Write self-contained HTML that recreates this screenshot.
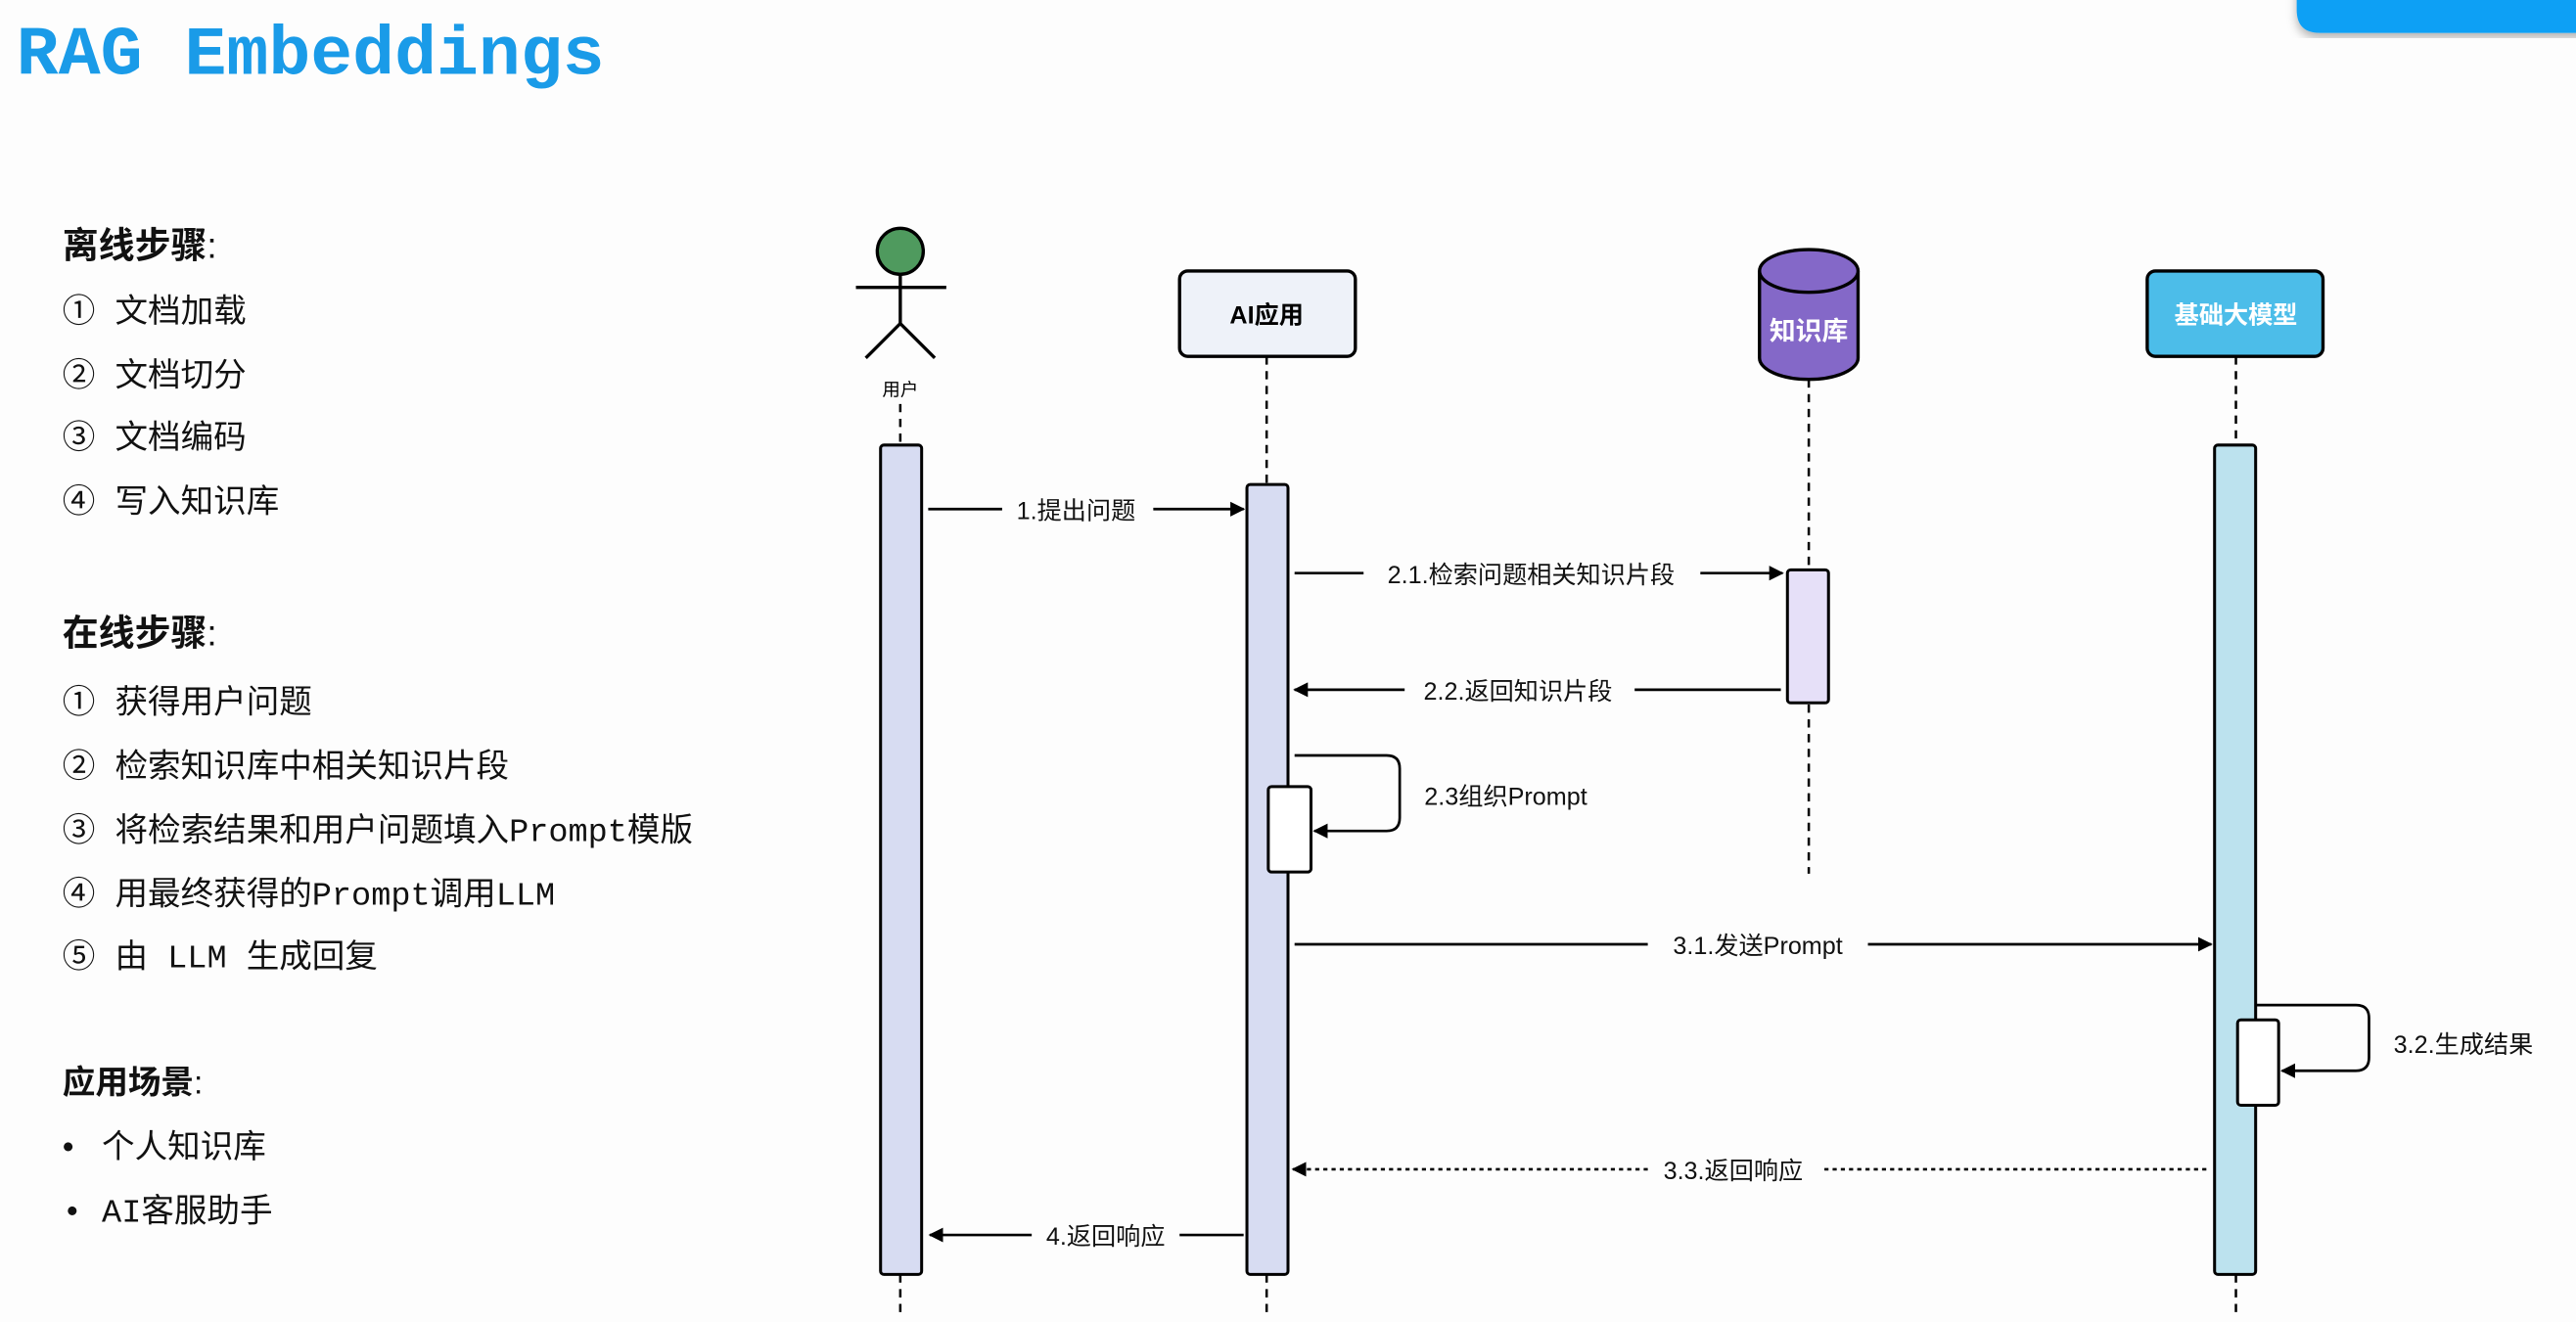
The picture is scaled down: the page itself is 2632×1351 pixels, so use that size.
<!DOCTYPE html>
<html><head><meta charset="utf-8"><style>
html,body{margin:0;padding:0;background:#fdfdfd;width:2632px;height:1351px;overflow:hidden}
svg{display:block}
.cn{font-family:"Liberation Sans","Noto Sans CJK SC",sans-serif}
.mono{font-family:"Liberation Mono","Noto Sans CJK SC",monospace}
</style></head><body>
<svg width="2632" height="1351" viewBox="0 0 1568 805" preserveAspectRatio="none" xmlns="http://www.w3.org/2000/svg">
<defs>
<marker id="ar" viewBox="0 0 10 10" refX="9" refY="5" markerWidth="9" markerHeight="9" markerUnits="userSpaceOnUse" orient="auto"><path d="M0,0 L10,5 L0,10 z" fill="#000"/></marker>
<filter id="sh"><feDropShadow dx="0" dy="3" stdDeviation="3" flood-opacity="0.3"/></filter>
</defs>
<rect x="0" y="0" width="1568" height="805" fill="#fdfdfd"/>
<path d="M1398,-10 H1580 V20 H1412 Q1398,20 1398,6 Z" fill="#10a0f5" filter="url(#sh)"/>
<text x="10" y="45" class="mono" font-size="42" font-weight="bold" fill="#1a9be8" textLength="358" lengthAdjust="spacingAndGlyphs">RAG Embeddings</text>

<g class="cn" fill="#111" font-size="20">
<text x="38" y="157" font-size="22" font-weight="bold">离线步骤<tspan font-weight="normal">:</tspan></text>
<text x="38" y="196">①<tspan x="70">文档加载</tspan></text>
<text x="38" y="235">②<tspan x="70">文档切分</tspan></text>
<text x="38" y="273">③<tspan x="70">文档编码</tspan></text>
<text x="38" y="312">④<tspan x="70">写入知识库</tspan></text>
<text x="38" y="393" font-size="22" font-weight="bold">在线步骤<tspan font-weight="normal">:</tspan></text>
<text x="38" y="434">①<tspan x="70">获得用户问题</tspan></text>
<text x="38" y="473">②<tspan x="70">检索知识库中相关知识片段</tspan></text>
<text x="38" y="512" class="mono">③<tspan x="70">将检索结果和用户问题填入Prompt模版</tspan></text>
<text x="38" y="551" class="mono">④<tspan x="70">用最终获得的Prompt调用LLM</tspan></text>
<text x="38" y="589" class="mono">⑤<tspan x="70">由 LLM 生成回复</tspan></text>
<text x="38" y="666" font-weight="bold">应用场景<tspan font-weight="normal">:</tspan></text>
<text x="38" y="705">•<tspan x="62">个人知识库</tspan></text>
<text x="38" y="744" class="mono">•<tspan x="62">AI客服助手</tspan></text>
</g>

<g stroke="#000" stroke-width="1.5" stroke-dasharray="5,4" fill="none">
<line x1="548" y1="246" x2="548" y2="271"/><line x1="548" y1="776" x2="548" y2="802"/>
<line x1="771" y1="217" x2="771" y2="295"/><line x1="771" y1="776" x2="771" y2="802"/>
<line x1="1101" y1="231" x2="1101" y2="532"/>
<line x1="1361" y1="217" x2="1361" y2="271"/><line x1="1361" y1="776" x2="1361" y2="802"/>
</g>

<circle cx="548" cy="153" r="14" fill="#4f9a5e" stroke="#000" stroke-width="2"/>
<g stroke="#000" stroke-width="2" fill="none">
<line x1="521" y1="175" x2="576" y2="175"/><line x1="548" y1="167" x2="548" y2="197"/>
<polyline points="527,218 548,197 569,218"/>
</g>
<text x="548" y="241" class="cn" font-size="11" text-anchor="middle">用户</text>

<rect x="718" y="165" width="107" height="52" rx="5" fill="#eef2f9" stroke="#000" stroke-width="2"/>
<text x="771" y="197" class="cn" font-size="15" font-weight="bold" text-anchor="middle">AI应用</text>
<path d="M1071,165 V218 A30,13 0 0 0 1131,218 V165" fill="#8468c8" stroke="#000" stroke-width="2"/>
<ellipse cx="1101" cy="165" rx="30" ry="13" fill="#8468c8" stroke="#000" stroke-width="2"/>
<text x="1101" y="207" class="cn" font-size="16" font-weight="bold" fill="#fff" text-anchor="middle">知识库</text>
<rect x="1307" y="165" width="107" height="52" rx="5" fill="#4cbde9" stroke="#000" stroke-width="2"/>
<text x="1361" y="197" class="cn" font-size="15" font-weight="bold" fill="#fff" text-anchor="middle">基础大模型</text>

<g stroke="#000" stroke-width="1.8">
<rect x="536" y="271" width="25" height="505" rx="2" fill="#d7dcf2"/>
<rect x="759" y="295" width="25" height="481" rx="2" fill="#d7dcf2"/>
<rect x="772" y="479" width="26" height="52" rx="2" fill="#fff"/>
<rect x="1088" y="347" width="25" height="81" rx="2" fill="#e6e0f8"/>
<rect x="1348" y="271" width="25" height="505" rx="2" fill="#bce2ee"/>
<rect x="1362" y="621" width="25" height="52" rx="2" fill="#fff"/>
</g>

<g stroke="#000" stroke-width="1.6" fill="none">
<line x1="565" y1="310" x2="610" y2="310"/><line x1="702" y1="310" x2="757" y2="310" marker-end="url(#ar)"/>
<line x1="788" y1="349" x2="830" y2="349"/><line x1="1035" y1="349" x2="1085" y2="349" marker-end="url(#ar)"/>
<line x1="1084" y1="420" x2="995" y2="420"/><line x1="855" y1="420" x2="788" y2="420" marker-end="url(#ar)"/>
<path d="M788,460 H844 Q852,460 852,468 V498 Q852,506 844,506 H800" marker-end="url(#ar)"/>
<line x1="788" y1="575" x2="1003" y2="575"/><line x1="1137" y1="575" x2="1346" y2="575" marker-end="url(#ar)"/>
<path d="M1373,612 H1434 Q1442,612 1442,620 V644 Q1442,652 1434,652 H1389" marker-end="url(#ar)"/>
<line x1="1343" y1="712" x2="1108" y2="712" stroke-dasharray="2.5,2.5"/><line x1="1003" y1="712" x2="787" y2="712" stroke-dasharray="2.5,2.5" marker-end="url(#ar)"/>
<line x1="757" y1="752" x2="718" y2="752"/><line x1="628" y1="752" x2="566" y2="752" marker-end="url(#ar)"/>
</g>
<g class="cn" font-size="15" fill="#111" text-anchor="middle">
<text x="655" y="316">1.提出问题</text>
<text x="932" y="355">2.1.检索问题相关知识片段</text>
<text x="924" y="426">2.2.返回知识片段</text>
<text x="867" y="490" text-anchor="start">2.3组织Prompt</text>
<text x="1070" y="581">3.1.发送Prompt</text>
<text x="1457" y="641" text-anchor="start">3.2.生成结果</text>
<text x="1055" y="718">3.3.返回响应</text>
<text x="673" y="758">4.返回响应</text>
</g>
</svg>
</body></html>
